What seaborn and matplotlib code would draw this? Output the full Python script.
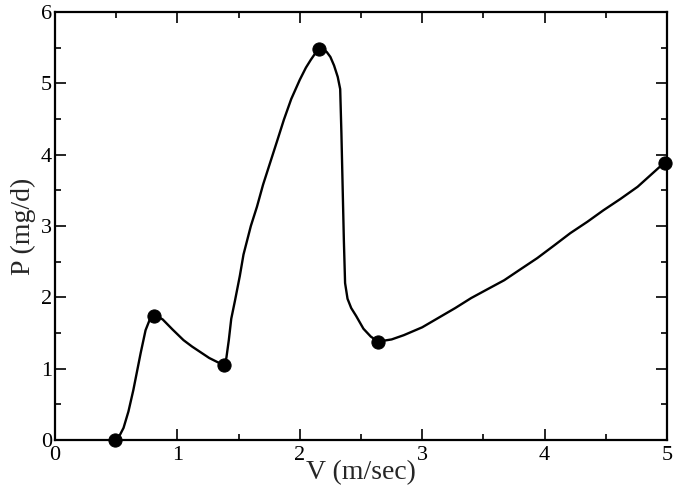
import numpy as np
import pandas as pd
import matplotlib
matplotlib.use('Agg')
import matplotlib.pyplot as plt
import seaborn as sns
from matplotlib.ticker import MultipleLocator

# curve
curve_v = [0.49, 0.53, 0.56, 0.60, 0.64, 0.67, 0.70, 0.74, 0.77, 0.79, 0.81,
           0.84, 0.88, 0.96, 1.05, 1.12, 1.19, 1.26, 1.33, 1.38,
           1.40, 1.42, 1.44, 1.47, 1.51, 1.54, 1.60, 1.65, 1.70, 1.76, 1.82, 1.87, 1.93, 2.00, 2.05, 2.09, 2.13, 2.16,
           2.19, 2.22, 2.25, 2.28, 2.31, 2.33, 2.34, 2.35, 2.36, 2.37, 2.39, 2.42, 2.46, 2.52, 2.58, 2.64,
           2.75, 2.85, 3.00, 3.13, 3.27, 3.40, 3.54, 3.67, 3.80, 3.94, 4.08, 4.21, 4.35, 4.48, 4.62, 4.76, 4.87, 4.98]
curve_p = [0.00, 0.07, 0.17, 0.40, 0.70, 0.96, 1.22, 1.54, 1.67, 1.72, 1.74,
           1.73, 1.69, 1.55, 1.40, 1.31, 1.23, 1.15, 1.09, 1.05,
           1.15, 1.40, 1.70, 1.95, 2.30, 2.60, 3.00, 3.27, 3.58, 3.90, 4.22, 4.49, 4.78, 5.05, 5.22, 5.33, 5.43, 5.48,
           5.48, 5.44, 5.37, 5.25, 5.09, 4.92, 4.30, 3.55, 2.80, 2.20, 1.98, 1.85, 1.74, 1.56, 1.45, 1.38,
           1.41, 1.47, 1.58, 1.71, 1.85, 1.99, 2.12, 2.24, 2.39, 2.55, 2.73, 2.90, 3.06, 3.22, 3.38, 3.55, 3.72, 3.89]

# marked points
point_v = [0.49, 0.81, 1.38, 2.16, 2.64, 4.98]
point_p = [0.00, 1.74, 1.05, 5.48, 1.38, 3.89]

curve = pd.DataFrame({'V': curve_v, 'P': curve_p})
points = pd.DataFrame({'V': point_v, 'P': point_p})

sns.set_theme(style='ticks')
plt.rcParams['font.family'] = ['Liberation Serif', 'DejaVu Serif']

fig = plt.figure(figsize=(6.74, 4.90), dpi=100)
ax = fig.add_axes([0.0816, 0.102, 0.908, 0.8735])

sns.lineplot(data=curve, x='V', y='P', sort=False, color='black', linewidth=1.7, ax=ax)
sns.scatterplot(data=points, x='V', y='P', color='black', s=90, edgecolor='black', zorder=5, clip_on=False, ax=ax)

ax.set_xlim(0, 5)
ax.set_ylim(0, 6)
ax.xaxis.set_major_locator(MultipleLocator(1))
ax.xaxis.set_minor_locator(MultipleLocator(0.5))
ax.yaxis.set_major_locator(MultipleLocator(1))
ax.yaxis.set_minor_locator(MultipleLocator(0.5))
ax.tick_params(which='both', direction='in', top=True, right=True, width=1.2, color='black',
               labelsize=16, labelcolor='black', pad=2)
ax.tick_params(axis='x', which='both', pad=4)
ax.tick_params(which='major', length=8)
ax.tick_params(which='minor', length=4.5)
for s in ax.spines.values():
    s.set_linewidth(1.6)
    s.set_color('black')

ax.set_xlabel('V (m/sec)', fontsize=20, labelpad=-3)
ax.set_ylabel('P (mg/d)', fontsize=20, labelpad=4)

plt.savefig('out.png', dpi=100)
